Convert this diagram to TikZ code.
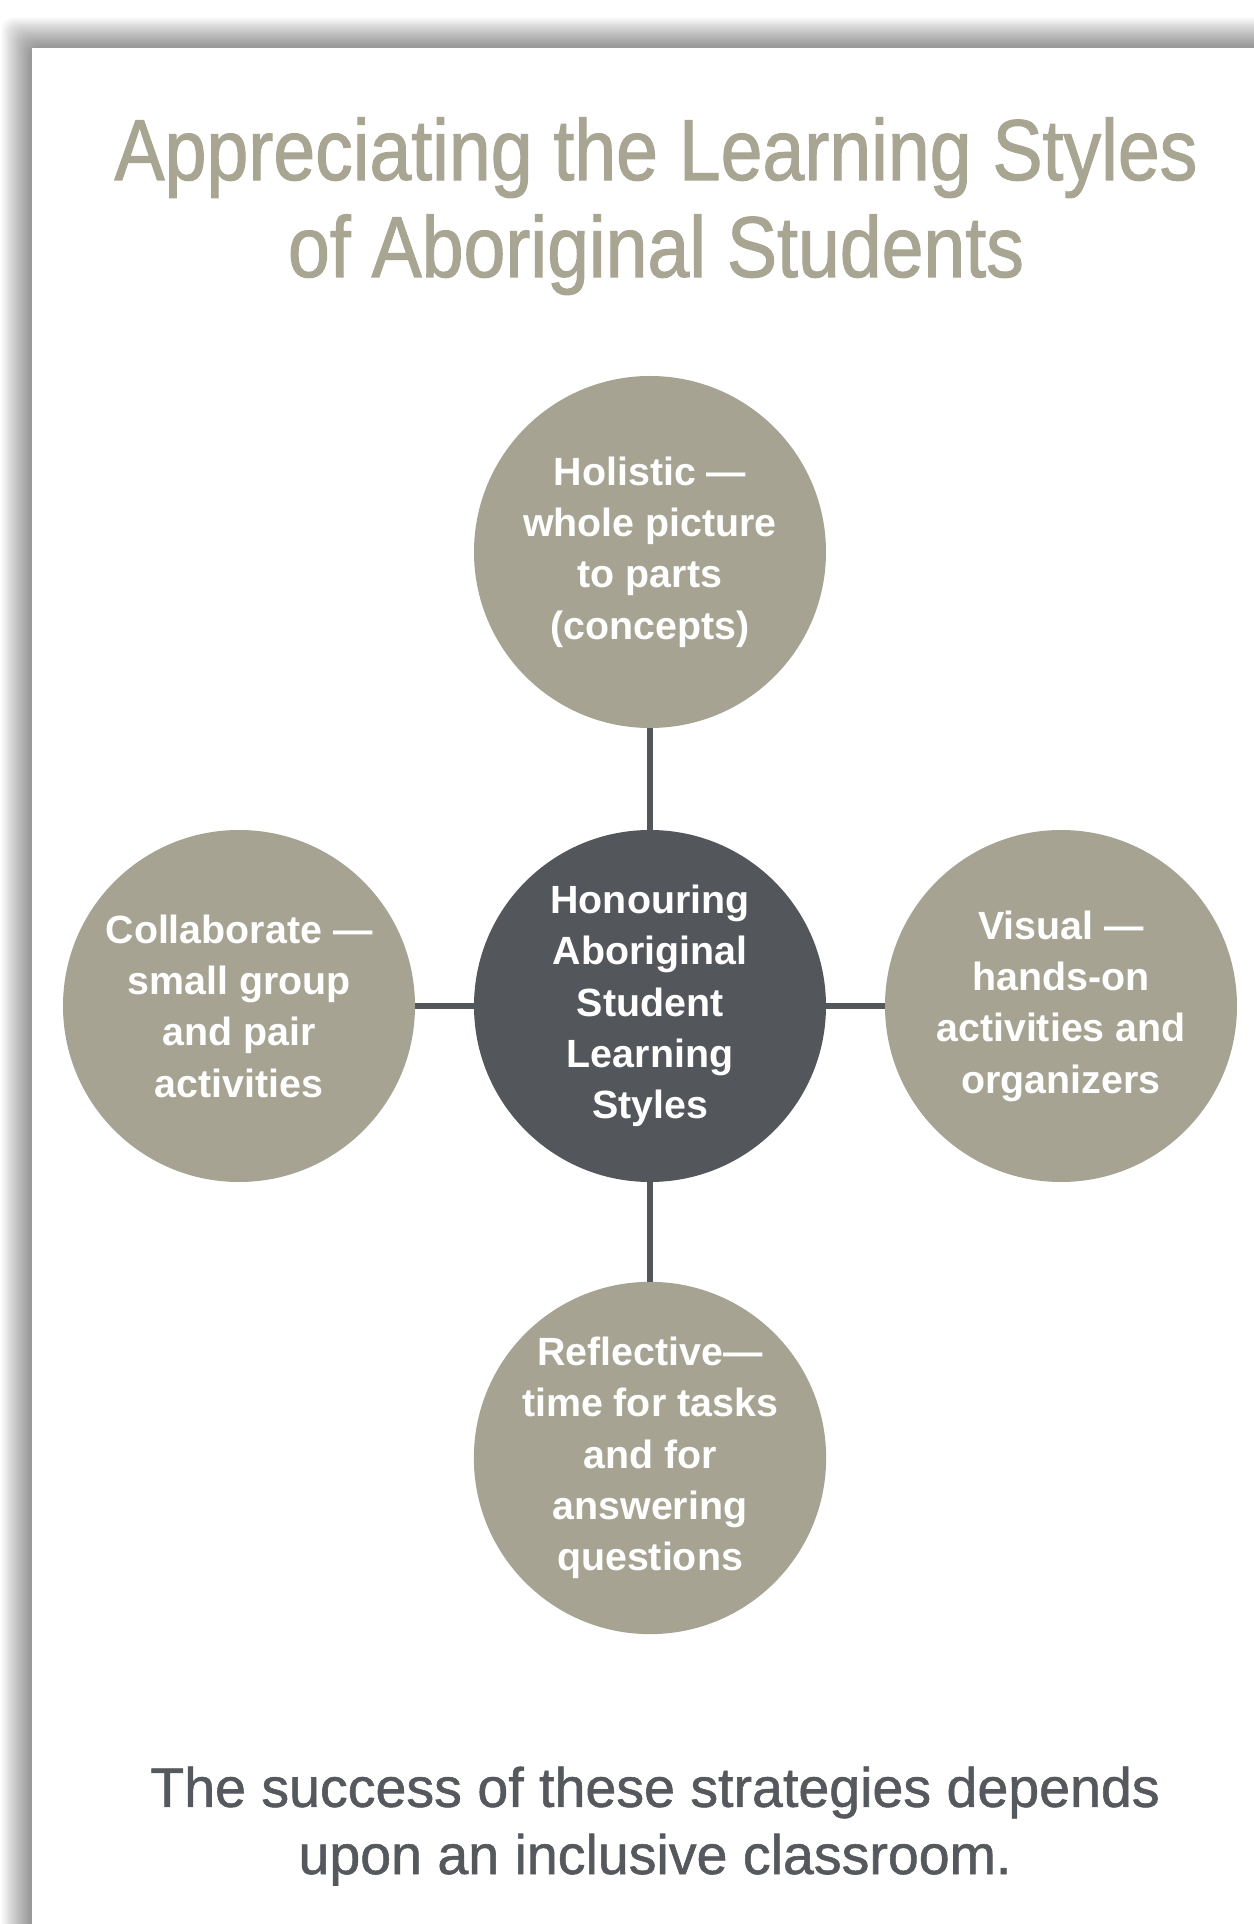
\documentclass[tikz,border=0pt]{standalone}
\usepackage{fontspec}
\setmainfont{Liberation Sans}
\newfontfamily\titlefont[FakeStretch=0.87, FakeBold=1.2]{Liberation Sans}
\newfontfamily\notefont[FakeBold=1]{Liberation Sans}
\usepackage{tikz,tkz-graph}

\definecolor{sageGray}{HTML}{A6A392}
\definecolor{slateGray}{HTML}{53565B}
\definecolor{titleGray}{HTML}{A8A593}
\definecolor{noteGray}{HTML}{55585C}

\begin{document}
\begin{tikzpicture}
\tikzstyle{VertexStyle} = []
\tikzstyle{EdgeStyle} = [line width = 1.9pt, color = slateGray]
\tikzstyle{outerStyle} = [shape = circle, minimum size = 3.52cm, inner sep = 0pt, fill = sageGray, text = white, align = center, font = \bfseries\fontsize{11.2}{14.6}\selectfont]
\tikzstyle{hubStyle} = [outerStyle, fill = slateGray]
\tikzstyle{titleStyle} = [anchor = base, align = center, text = titleGray, inner sep = 0pt, font = \titlefont\fontsize{24.6}{27.6}\selectfont]
\tikzstyle{noteStyle} = [anchor = base, align = center, text = noteGray, inner sep = 0pt, font = \notefont\fontsize{15.8}{19.1}\selectfont]
\clip (0,0) rectangle (12.54,19.24);
\fill[white] (0,0) rectangle (12.54,19.24);
% page shadow
\foreach \i in {1,...,15}
  \fill[black, opacity = 0.03, rounded corners = 3pt] (0.32-0.02*\i,-1) rectangle (14,18.76+0.02*\i);
\fill[white] (0.32,-1) rectangle (14,18.76);
\node[titleStyle] (title) at (6.56,16.47) {Appreciating the Learning Styles\\of Aboriginal Students};
\Vertex[style = hubStyle, x = 6.50, y = 9.18, L = {Honouring\\Aboriginal\\Student\\Learning\\Styles}]{hub}
\Vertex[style = outerStyle, x = 6.50, y = 13.72, L = {Holistic —\\whole picture\\to parts\\(concepts)}]{holistic}
\Vertex[style = outerStyle, x = 2.39, y = 9.18, L = {Collaborate —\\small group\\and pair\\activities}]{collaborate}
\Vertex[style = outerStyle, x = 10.61, y = 9.18, L = {Visual —\\hands-on\\activities and\\organizers}]{visual}
\Vertex[style = outerStyle, x = 6.50, y = 4.66, L = {Reflective—\\time for tasks\\and for\\answering\\questions}]{reflective}
\Edge(hub)(holistic)
\Edge(hub)(collaborate)
\Edge(hub)(visual)
\Edge(hub)(reflective)
\node[noteStyle] (note) at (6.55,0.50) {The success of these strategies depends\\upon an inclusive classroom.};
\end{tikzpicture}
\end{document}
